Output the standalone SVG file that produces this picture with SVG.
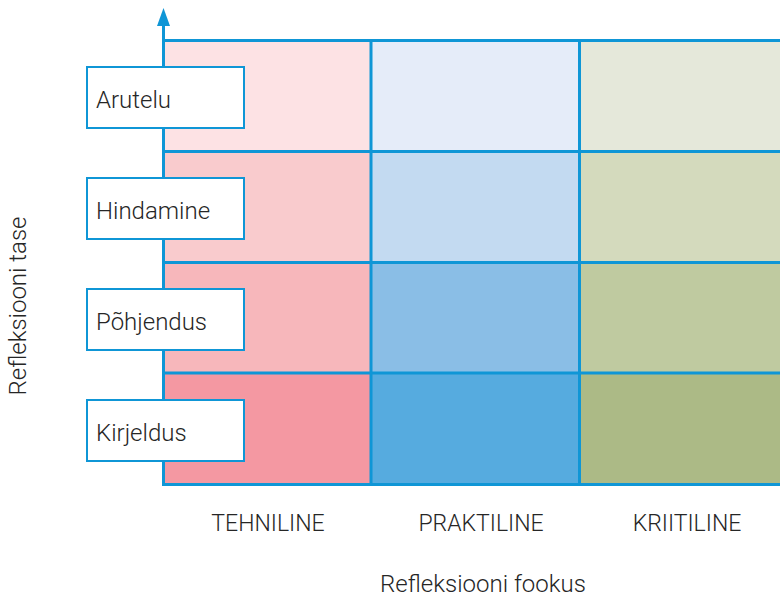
<svg xmlns="http://www.w3.org/2000/svg" width="780" height="600" viewBox="0 0 780 600">
<style>
.grid{stroke:#0f96d6;stroke-width:3;fill:none}
.box{fill:#ffffff;stroke:#0f96d6;stroke-width:2}
.t{font-family:Roboto,"Open Sans","Liberation Sans",sans-serif;font-weight:300;font-size:24px;fill:#262626}
.u{font-size:23px}
</style>
<rect width="780" height="600" fill="#ffffff"/>
<g id="cells">
<rect x="163.5" y="40.5" width="207.5" height="111" fill="#fde2e4"/>
<rect x="163.5" y="151.5" width="207.5" height="111" fill="#f9cbcd"/>
<rect x="163.5" y="262.5" width="207.5" height="110.5" fill="#f7b7bb"/>
<rect x="163.5" y="373" width="207.5" height="111.5" fill="#f498a2"/>
<rect x="371" y="40.5" width="208.5" height="111" fill="#e5ecf9"/>
<rect x="371" y="151.5" width="208.5" height="111" fill="#c3daf1"/>
<rect x="371" y="262.5" width="208.5" height="110.5" fill="#8abee6"/>
<rect x="371" y="373" width="208.5" height="111.5" fill="#56abdf"/>
<rect x="579.5" y="40.5" width="210" height="111" fill="#e5e8da"/>
<rect x="579.5" y="151.5" width="210" height="111" fill="#d4dabd"/>
<rect x="579.5" y="262.5" width="210" height="110.5" fill="#bfcaa0"/>
<rect x="579.5" y="373" width="210" height="111.5" fill="#acba86"/>
</g>
<g id="connectors">
<path class="grid" d="M163.5 40.5H790M163.5 151.5H790M163.5 262.5H790M163.5 373H790M162 484.5H790M371 40.5V484.5M579.5 40.5V484.5"/>
<path class="grid" d="M163.5 486V22"/>
<polygon points="163.5,8 157,26 170,26" fill="#0f96d6"/>
</g>
<g id="arutelu"><rect class="box" x="87" y="67" width="157" height="61"/><text class="t" x="96" y="107.5">Arutelu</text></g>
<g id="hindamine"><rect class="box" x="87" y="178" width="157" height="61"/><text class="t" x="96" y="218.5">Hindamine</text></g>
<g id="pohjendus"><rect class="box" x="87" y="289" width="157" height="61"/><text class="t" x="96" y="329.5">Põhjendus</text></g>
<g id="kirjeldus"><rect class="box" x="87" y="400" width="157" height="61"/><text class="t" x="96" y="440.5">Kirjeldus</text></g>
<g id="labels">
<text class="t u" x="268" y="531" text-anchor="middle">TEHNILINE</text>
<text class="t u" x="481" y="531" text-anchor="middle">PRAKTILINE</text>
<text class="t u" x="687" y="531" text-anchor="middle">KRIITILINE</text>
<text class="t" x="483" y="592" text-anchor="middle">Refleksiooni fookus</text>
<text class="t" transform="translate(26 306) rotate(-90)" text-anchor="middle">Refleksiooni tase</text>
</g>
</svg>
